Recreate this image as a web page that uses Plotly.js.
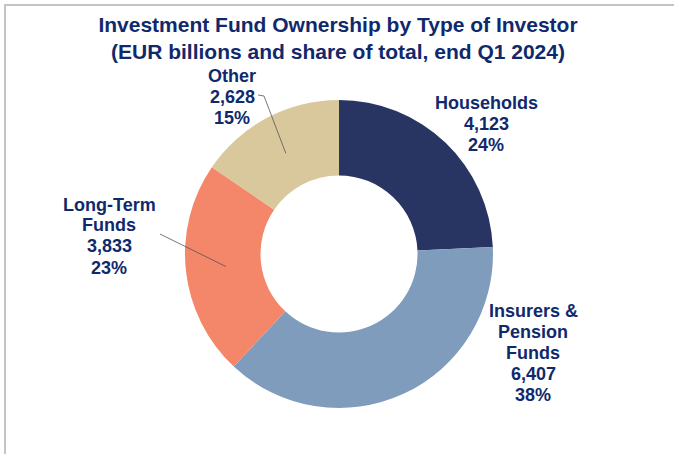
<!DOCTYPE html>
<html><head><meta charset="utf-8">
<script src="https://cdn.plot.ly/plotly-3.0.1.min.js"></script>
<style>html,body{margin:0;padding:0;background:#fff}#chart{width:674px;height:454px}</style>
</head><body><div id="chart"></div>
<script>
// ---- data ----
const categories = ["Households", "Insurers & Pension Funds", "Long-Term Funds", "Other"];
const labelLines = [["Households"], ["Insurers &", "Pension", "Funds"], ["Long-Term", "Funds"], ["Other"]];
const values = [4123, 6407, 3833, 2628];
const titleLines = ["Investment Fund Ownership by Type of Investor", "(EUR billions and share of total, end Q1 2024)"];

// ---- style / layout config ----
const W = 674, H = 454;
const colors = ["#283562", "#7f9cbd", "#f4866a", "#d8c89b"];
const textColor = "#10296c";
const fontFam = "Arial, 'Liberation Sans', sans-serif";
const pie = {cx: 339, cy: 254, r: 154, hole: 0.51};
const labelPos = [{x: 486, y: 124}, {x: 533, y: 353}, {x: 109, y: 236}, {x: 232, y: 97}];
const lineGap = 21;
const leaderStart = [null, null, [[160, 234]], [[258, 95], [264, 96]]];

const px = x => x / W, py = y => 1 - y / H;
const total = values.reduce((a, b) => a + b, 0);

const annotations = [];
categories.forEach((c, i) => {
  const lines = labelLines[i].concat([values[i].toLocaleString('en-US'), Math.round(values[i] / total * 100) + '%']);
  const n = lines.length;
  lines.forEach((t, k) => {
    annotations.push({
      xref: 'paper', yref: 'paper', x: px(labelPos[i].x), y: py(labelPos[i].y + (k - (n - 1) / 2) * lineGap),
      xanchor: 'center', yanchor: 'middle', showarrow: false, text: '<b>' + t + '</b>',
      font: {family: fontFam, size: 18, color: textColor}
    });
  });
});

// leader lines to slice mid-angles at mid-ring radius
const shapes = [];
let cum = 0;
values.forEach((v, i) => {
  const mid = (cum + v / 2) / total * 2 * Math.PI;
  cum += v;
  if (!leaderStart[i]) return;
  const rr = pie.r * (1 + pie.hole) / 2 * 0.98;
  const ex = pie.cx + rr * Math.sin(mid), ey = pie.cy - rr * Math.cos(mid);
  const pts = leaderStart[i].concat([[ex, ey]]);
  const path = pts.map((p, k) => (k ? 'L' : 'M') + px(p[0]) + ',' + py(p[1])).join(' ');
  shapes.push({type: 'path', xref: 'paper', yref: 'paper', path: path, line: {color: '#555555', width: 0.8}});
});
// frame lines (top and left)
shapes.push({type: 'line', xref: 'paper', yref: 'paper', x0: px(4), x1: 1, y0: py(5), y1: py(5), line: {color: '#c4c4c4', width: 2}});
shapes.push({type: 'line', xref: 'paper', yref: 'paper', x0: px(5), x1: px(5), y0: py(4), y1: 0, line: {color: '#c4c4c4', width: 2}});

const trace = {
  type: 'pie', labels: categories, values: values, sort: false, direction: 'clockwise', rotation: 0,
  hole: pie.hole, textinfo: 'none', hoverinfo: 'none',
  marker: {colors: colors, line: {width: 0}},
  domain: {x: [px(pie.cx - pie.r), px(pie.cx + pie.r)], y: [py(pie.cy + pie.r), py(pie.cy - pie.r)]}
};

const layout = {
  width: W, height: H, margin: {l: 0, r: 0, t: 0, b: 0}, showlegend: false,
  paper_bgcolor: '#ffffff', plot_bgcolor: '#ffffff',
  title: {text: '<b>' + titleLines.join('<br>') + '</b>', x: 338 / W, xanchor: 'center', y: 1 - 32 / H, yanchor: 'middle',
    font: {family: fontFam, size: 21, color: textColor}},
  annotations: annotations, shapes: shapes
};
Plotly.newPlot('chart', [trace], layout, {displayModeBar: false, staticPlot: true});
</script></body></html>
